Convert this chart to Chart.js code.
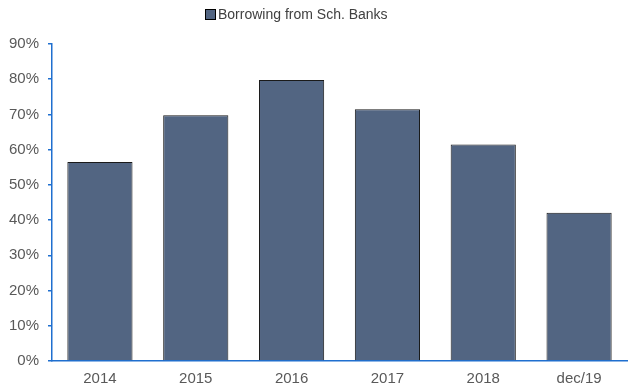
<!DOCTYPE html>
<html>
<head>
<meta charset="utf-8">
<script src="https://cdn.jsdelivr.net/npm/chart.js@4"></script>
<style>
  html, body { margin: 0; padding: 0; background: #fff; }
  #wrap { width: 631px; height: 392px; position: relative; }
</style>
</head>
<body>
<div id="wrap"><canvas id="c"></canvas></div>
<script>
const categories = ['2014', '2015', '2016', '2017', '2018', 'dec/19'];
const borrowingShare = [56.5, 69.8, 79.8, 71.5, 61.5, 42.1];
const seriesName = 'Borrowing from Sch. Banks';
const yTicks = [0, 10, 20, 30, 40, 50, 60, 70, 80, 90];

const axisBlue = '#1f6fcf';
const barFill = '#526582';
const labelGrey = '#595959';
const fontFamily = '"Liberation Sans", Arial, sans-serif';

// Small legend drawn above the plot: one square swatch plus the series name
const topLegend = {
  id: 'topLegend',
  afterDraw(chart) {
    const ctx = chart.ctx;
    const ds = chart.data.datasets[0];
    ctx.save();
    ctx.font = '14px ' + fontFamily;
    const text = ds.label;
    const w = ctx.measureText(text).width;
    const box = 10;
    const gap = 3;
    const total = box + gap + w;
    const cx = 296;
    const x0 = Math.round(cx - total / 2);
    const y = 14;
    ctx.fillStyle = ds.backgroundColor;
    ctx.fillRect(x0 + 0.5, y - box / 2 + 0.5, box, box);
    ctx.strokeStyle = '#000';
    ctx.lineWidth = 1;
    ctx.strokeRect(x0 + 0.5, y - box / 2 + 0.5, box, box);
    ctx.fillStyle = '#404040';
    ctx.textBaseline = 'middle';
    ctx.fillText(text, x0 + box + gap, y + 1);
    ctx.restore();
  }
};

new Chart(document.getElementById('c'), {
  type: 'bar',
  data: {
    labels: categories,
    datasets: [{
      label: seriesName,
      data: borrowingShare,
      backgroundColor: barFill,
      borderColor: '#1a1a1a',
      borderWidth: 1,
      categoryPercentage: 1,
      barPercentage: 0.68
    }]
  },
  options: {
    responsive: true,
    maintainAspectRatio: false,
    animation: false,
    layout: { padding: { top: 44, right: 4, left: 0, bottom: -5 } },
    plugins: {
      legend: { display: false },
      tooltip: { enabled: false }
    },
    scales: {
      x: {
        grid: { display: false, drawTicks: false },
        border: { display: true, color: axisBlue, width: 1.5 },
        ticks: {
          color: labelGrey,
          font: { family: fontFamily, size: 15 },
          padding: 9,
          maxRotation: 0
        }
      },
      y: {
        min: 0,
        max: 90,
        afterBuildTicks(scale) {
          scale.ticks = yTicks.map(v => ({ value: v }));
        },
        grid: {
          drawOnChartArea: false,
          drawTicks: true,
          tickLength: 4,
          color: axisBlue,
          lineWidth: 1.5
        },
        border: { display: true, color: axisBlue, width: 1.5 },
        ticks: {
          color: labelGrey,
          font: { family: fontFamily, size: 15 },
          padding: 9,
          callback: v => v + '%'
        }
      }
    }
  },
  plugins: [topLegend]
});
</script>
</body>
</html>
